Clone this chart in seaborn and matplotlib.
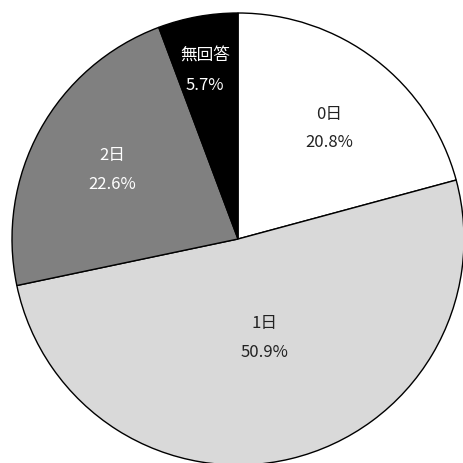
import numpy as np
import matplotlib.pyplot as plt
import seaborn as sns

# データ
categories = ['0日', '1日', '2日', '無回答']
shares = [20.8, 50.9, 22.6, 5.7]
pct_labels = ['20.8%', '50.9%', '22.6%', '5.7%']

sns.set_theme(style='white')
plt.rcParams['font.family'] = ['Noto Sans CJK JP', 'DejaVu Sans']

colors = ['#ffffff', '#d9d9d9', '#808080', '#000000']
text_colors = ['#222222', '#222222', '#ffffff', '#ffffff']
label_dist = [0.637, 0.449, 0.638, 0.762]
angle_shift = [-1.8, 1.4, -0.3, 0.7]

fig = plt.figure(figsize=(4.63, 4.64), dpi=100)
ax = fig.add_axes([0, 0, 1, 1])

wedges, _ = ax.pie(shares, colors=colors, startangle=90, counterclock=False,
                   radius=1.0, wedgeprops=dict(edgecolor='black', linewidth=1.0))

# ラベルを各扇形の中に配置
for w, cat, pct, tc, d, s in zip(wedges, categories, pct_labels, text_colors,
                                 label_dist, angle_shift):
    ang = np.deg2rad((w.theta1 + w.theta2) / 2 + s)
    x, y = d * np.cos(ang), d * np.sin(ang)
    ax.text(x, y + 0.064, cat, ha='center', va='center', fontsize=12, color=tc)
    ax.text(x, y - 0.064, pct, ha='center', va='center', fontsize=12, color=tc)

ax.set_xlim(-238 / 226, (463 - 238) / 226)
ax.set_ylim(-224 / 226, 240 / 226)
ax.set_axis_off()

fig.savefig('out.png', dpi=100)
